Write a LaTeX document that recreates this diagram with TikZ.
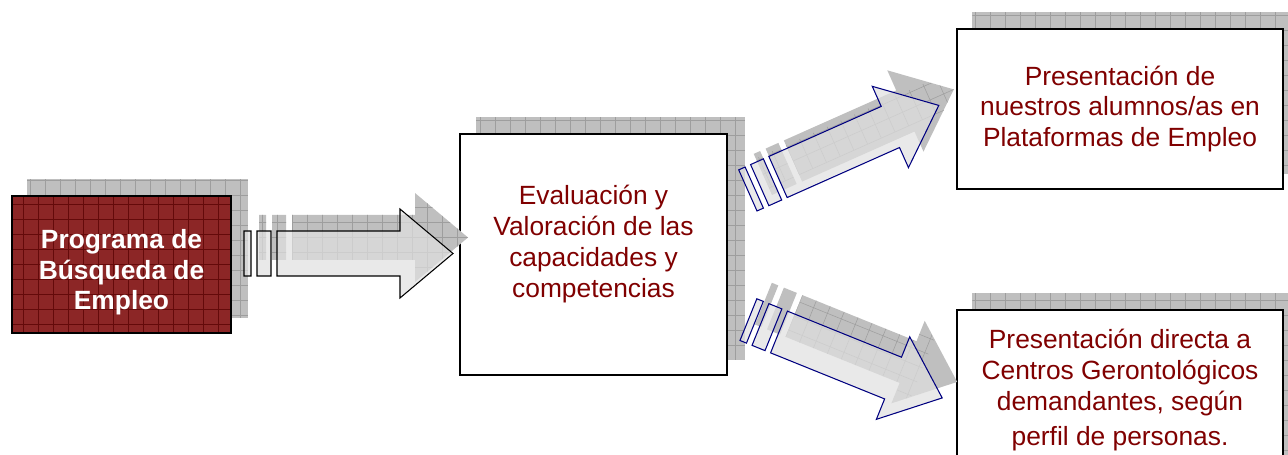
\documentclass[tikz,border=0pt]{standalone}
\usepackage{fontspec}
\setmainfont{Liberation Sans}
\usetikzlibrary{backgrounds}

\definecolor{rojotexto}{RGB}{128,0,0}
\definecolor{rojocaja}{RGB}{140,38,38}
\definecolor{rojorejilla}{RGB}{100,10,10}
\definecolor{azulflecha}{RGB}{0,0,128}

\tikzset{
  caja/.style={draw=black, line width=0.9pt, fill=white, align=center, text=rojotexto,
    font=\fontsize{15pt}{17.6pt}\selectfont},
  sombra/.style={fill=black!25, path picture={
    \draw[black!38, line width=0.3pt, step=0.3cm]
      (path picture bounding box.south west) grid (path picture bounding box.north east);}},
  flecha/.style={fill=black!12, fill opacity=0.7, line width=0.6pt},
}

% forma de las flechas (origen en el centro del arranque)
\newcommand{\cuerpoflecha}{(0,-22.5) -- (123,-22.5) -- (123,-44.5) -- (176,0) -- (123,44.5) -- (123,22.5) -- (0,22.5) -- cycle}
\newcommand{\barrauno}{(-33,-22.5) rectangle (-26,22.5)}
\newcommand{\barrados}{(-20,-22.5) rectangle (-6,22.5)}

\begin{document}
\begin{tikzpicture}[x=0.02cm,y=-0.02cm]
\useasboundingbox (0,0) rectangle (1288,455);

% cajas
\node[caja, fill=rojocaja, text=white, font=\bfseries\fontsize{15pt}{17.3pt}\selectfont,
  minimum width=4.38cm, minimum height=2.74cm,
  path picture={\draw[rojorejilla, line width=0.4pt, step=0.3cm]
    (path picture bounding box.south west) grid (path picture bounding box.north east);}]
  (programa) at (121.5,264.5) {\mbox{}\\[2.7pt]Programa de\\Búsqueda de\\Empleo};

\node[caja, minimum width=5.34cm, minimum height=4.82cm] (evaluacion) at (593.5,254.5)
  {Evaluación y\\Valoración de las\\capacidades y\\competencias\\[-3pt]\mbox{}};

\node[caja, minimum width=6.52cm, minimum height=3.2cm] (plataformas) at (1120,109)
  {Presentación de\\nuestros alumnos/as en\\Plataformas de Empleo};

\node[caja, minimum width=6.52cm, minimum height=3.2cm] (centros) at (1120,390)
  {Presentación directa a\\Centros Gerontológicos\\demandantes, según\\[2pt]perfil de personas.};

% sombras de las cajas
\begin{scope}[on background layer]
\path[sombra] ([shift={(16,-16)}]programa.south west) rectangle ([shift={(16,-16)}]programa.north east);
\path[sombra] ([shift={(17,-16)}]evaluacion.south west) rectangle ([shift={(17,-16)}]evaluacion.north east);
\path[sombra] ([shift={(16,-16)}]plataformas.south west) rectangle ([shift={(16,-16)}]plataformas.north east);
\path[sombra] ([shift={(16,-16)}]centros.south west) rectangle ([shift={(16,-16)}]centros.north east);
\end{scope}

% flecha izquierda
\path[sombra, shift={(292,237.5)}] \cuerpoflecha \barrauno \barrados;
\path[flecha, draw=black, shift={(277,253.5)}] \cuerpoflecha \barrauno \barrados;

% flecha arriba
\path[sombra, shift={(793,161)}, rotate=24] \cuerpoflecha \barrauno \barrados;
\path[flecha, draw=azulflecha, shift={(778,177)}, rotate=24] \cuerpoflecha \barrauno \barrados;

% flecha abajo
\path[sombra, shift={(794,316)}, rotate=-22] \cuerpoflecha \barrauno \barrados;
\path[flecha, draw=azulflecha, shift={(779,332)}, rotate=-22] \cuerpoflecha \barrauno \barrados;
\end{tikzpicture}
\end{document}
